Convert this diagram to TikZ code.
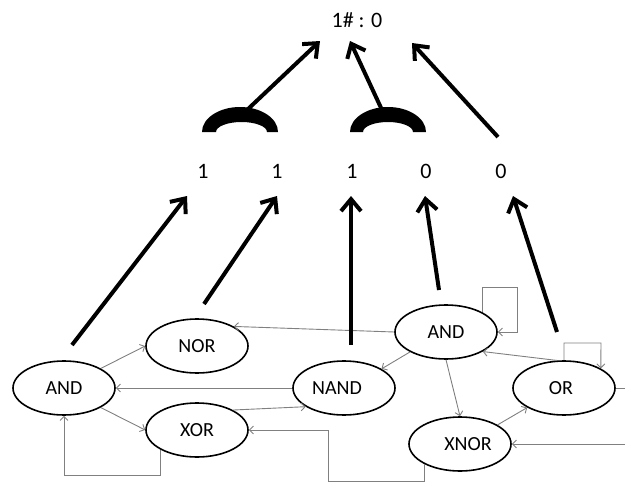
\documentclass[tikz,border=0pt]{standalone}
\usepackage{fontspec}
\setmainfont{Carlito}
\usetikzlibrary{shapes.geometric,arrows.meta}
\begin{document}
\begin{tikzpicture}[x=1pt,y=-1pt,
  gate/.style={ellipse,draw=black,line width=1.6pt,minimum width=102pt,minimum height=54pt,inner sep=0pt,font=\fontsize{20}{22}\selectfont},
  wire/.style={draw=gray,line width=0.9pt,-{Straight Barb[length=4pt,width=8pt]}},
  plainwire/.style={draw=gray,line width=0.9pt},
  big/.style={line width=4pt,-{Straight Barb[length=12pt,width=20pt]}},
  bit/.style={font=\fontsize{22}{24}\selectfont,inner sep=0pt},
  crescent/.style={fill=black}]
\useasboundingbox (0,0) rectangle (625,482);
% gates
\node[gate] (andL) at (64,388) {AND};
\node[gate] (nor) at (197,346) {NOR};
\node[gate] (xor) at (197,430) {XOR};
\node[gate] (nand) at (344,388) {NAND\hspace*{14pt}};
\node[gate] (andR) at (446,332) {AND};
\node[gate] (orN) at (564,388) {OR\hspace*{6pt}};
\node[gate] (xnor) at (460,444) {\hspace*{16pt}XNOR};
% bits
\node[bit] (top) at (357,20) {1\# : 0};
\node[bit] (d1) at (203,171) {1};
\node[bit] (d2) at (277,171) {1};
\node[bit] (d3) at (352,171) {1};
\node[bit] (d4) at (426,171) {0};
\node[bit] (d5) at (501,171) {0};
% thin wires
\draw[wire] (andL.28) -- (nor.west);
\draw[wire] (andL.-28) -- (xor.west);
\draw[wire] (nand.west) -- (andL.east);
\draw[wire] (xor.29) -- (nand.206);
\coordinate (lb) at (328,481);
\draw[wire] (xnor.210) |- (lb) |- (xor.east);
\coordinate (la) at (64,475);
\draw[wire] (xor.208) |- (la) -- (andL.south);
\draw[wire] (andR.west) -- (nor.28);
\coordinate (sa) at (517,287);
\draw[wire] (andR.28) |- (sa) |- (andR.east);
\draw[wire] (andR.209) -- (nand.27);
\draw[wire] (andR.south) -- (xnor.north);
\draw[wire] (orN.104) -- (andR.-28);
\coordinate (sb) at (601,343);
\draw[wire] (orN.north) |- (sb) -- (orN.28);
\draw[wire] (xnor.27) -- (orN.208);
\coordinate (ra) at (625,444);
\draw[wire] (ra) -- (xnor.east);
\coordinate (rb) at (625,388);
\draw[plainwire] (orN.east) -- (rb);
% thick arrows from gates to bits
\coordinate (s1) at (72,345);  \coordinate (e1) at (187,196);
\coordinate (s2) at (204,304); \coordinate (e2) at (277,196);
\coordinate (s3) at (351,345); \coordinate (e3) at (351,196);
\coordinate (s4) at (439,290); \coordinate (e4) at (425,196);
\coordinate (s5) at (557,332); \coordinate (e5) at (513,196);
\draw[big] (s1) -- (e1);
\draw[big] (s2) -- (e2);
\draw[big] (s3) -- (e3);
\draw[big] (s4) -- (e4);
\draw[big] (s5) -- (e5);
% caps
\fill[crescent] (202,132) arc (180:360:38 and 25) -- (267,132) arc (0:-180:25.5 and 10) -- cycle;
\fill[crescent] (350,132) arc (180:360:38 and 25) -- (413,132) arc (0:-180:25 and 10) -- cycle;
% arrows to the top
\coordinate (c1) at (247,110); \coordinate (t1) at (320,41);
\coordinate (c2) at (382,110); \coordinate (t2) at (350,41);
\coordinate (c3) at (498,137); \coordinate (t3) at (412,43);
\draw[big] (c1) -- (t1);
\draw[big] (c2) -- (t2);
\draw[big] (c3) -- (t3);
\end{tikzpicture}
\end{document}
